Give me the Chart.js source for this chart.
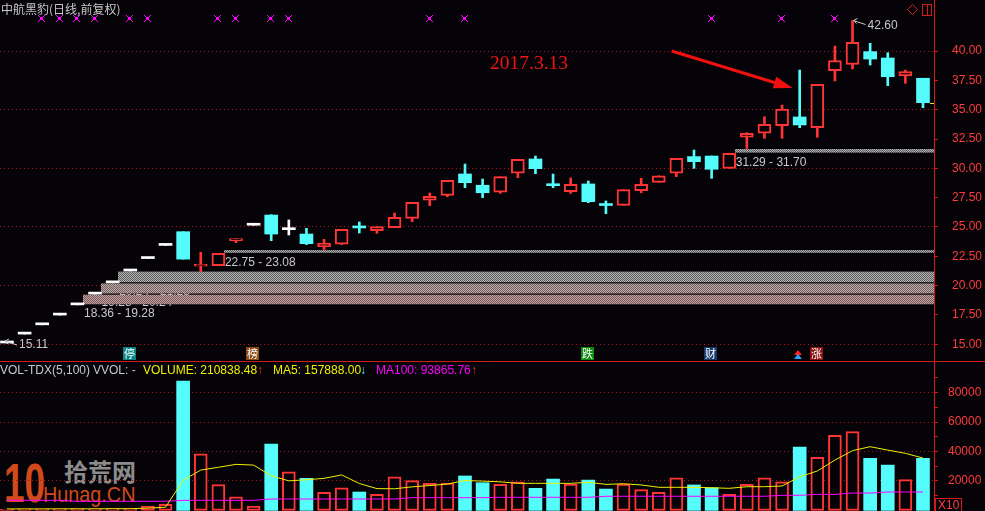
<!DOCTYPE html>
<html lang="zh-CN">
<head>
<meta charset="utf-8">
<title>中航黑豹 日线</title>
<script src="https://cdn.jsdelivr.net/npm/chart.js@4.4.1/dist/chart.umd.min.js"></script>
<style>
  html, body { margin: 0; padding: 0; background: #050308; }
  #board { position: relative; width: 985px; height: 511px; overflow: hidden; font-family: 'Liberation Sans', Arial, sans-serif; }
  #board canvas { position: absolute; left: 0; z-index: 1; }
  #priceChart { top: 0; }
  #volumeChart { top: 361px; }
  .txt { position: absolute; z-index: 2; white-space: nowrap; }
  #title { left: 1px; top: 2px; font: 12px/14px 'Noto Sans CJK SC', sans-serif; color: #c8c8c8; }
  #note { left: 490px; top: 53px; font: 19.5px/20px 'Liberation Serif', serif; color: #f01414; }
  .vh { top: 363px; font-size: 12px; line-height: 14px; }
  .wm { position: absolute; z-index: 0; white-space: nowrap; transform-origin: left top; }
  #wm10 { left: 4px; top: 455px; font: bold 56px/56px 'Liberation Sans', sans-serif; color: #d24a1c; transform: scaleX(0.66); }
  #wmCn { left: 64px; top: 459px; font: bold 24px/24px 'Noto Sans CJK SC', sans-serif; color: #8c8c8c; }
  #wmEn { left: 43px; top: 484px; font: 22px/22px 'Liberation Sans', sans-serif; color: #d24a1c; transform: scaleX(0.9); }
</style>
</head>
<body>
<div id="board">
  <div class="wm" id="wm10">10</div>
  <div class="wm" id="wmCn">拾荒网</div>
  <div class="wm" id="wmEn">Hunag.CN</div>
  <canvas id="priceChart" width="985" height="361"></canvas>
  <canvas id="volumeChart" width="985" height="150"></canvas>
  <div class="txt" id="title">中航黑豹(日线,前复权)</div>
  <div class="txt" id="note">2017.3.13</div>
  <div class="txt vh" style="left:0;color:#c8c8c8">VOL-TDX(5,100)</div>
  <div class="txt vh" style="left:93px;color:#c8c8c8">VVOL: -</div>
  <div class="txt vh" style="left:143px;color:#f0f000">VOLUME: 210838.48</div>
  <div class="txt vh" style="left:257px;color:#ff3232">↑</div>
  <div class="txt vh" style="left:273px;color:#f0f000">MA5: 157888.00</div>
  <div class="txt vh" style="left:360px;color:#54fcfc">↓</div>
  <div class="txt vh" style="left:376px;color:#ff00ff">MA100: 93865.76</div>
  <div class="txt vh" style="left:471px;color:#ff3232">↑</div>
</div>
<script>
// trading days, oldest first
const DAYS = [0, 1, 2, 3, 4, 5, 6, 7, 8, 9, 10, 11, 12, 13, 14, 15, 16, 17, 18, 19,
  20, 21, 22, 23, 24, 25, 26, 27, 28, 29, 30, 31, 32, 33, 34, 35, 36, 37, 38, 39,
  40, 41, 42, 43, 44, 45, 46, 47, 48, 49, 50, 51, 52];

const OPEN = [15.11, 15.87, 16.66, 17.49, 18.36, 19.28, 20.24, 21.25, 22.31, 23.43,
  24.60, 21.67, 21.70, 23.84, 25.15, 26.02, 24.77, 24.40, 23.32, 23.53,
  24.96, 24.68, 24.94, 25.74, 27.28, 27.70, 29.52, 28.56, 27.96, 29.58,
  30.80, 28.62, 28.01, 28.67, 26.87, 26.85, 28.10, 28.81, 29.58, 31.00,
  31.05, 30.00, 32.65, 32.99, 33.64, 34.38, 33.47, 38.32, 38.87, 39.95,
  39.41, 37.87, 37.68];
const HIGH = [15.11, 15.87, 16.66, 17.49, 18.36, 19.28, 20.24, 21.25, 22.31, 23.43,
  24.60, 22.84, 22.75, 23.98, 25.15, 26.05, 25.60, 24.89, 23.95, 24.80,
  25.43, 25.03, 26.19, 27.11, 27.90, 28.98, 30.37, 29.09, 29.29, 30.77,
  31.05, 29.52, 29.18, 28.92, 27.22, 28.18, 29.15, 29.37, 30.86, 31.56,
  31.05, 31.29, 33.04, 34.40, 35.40, 38.38, 37.17, 40.43, 42.60, 40.66,
  39.86, 38.38, 37.68];
const LOW = [15.11, 15.87, 16.66, 17.49, 18.36, 19.28, 20.24, 21.25, 22.31, 23.43,
  22.26, 21.19, 21.70, 23.66, 25.15, 23.83, 24.32, 23.50, 23.08, 23.50,
  24.49, 24.46, 24.94, 25.45, 26.82, 27.58, 28.35, 27.50, 27.87, 29.20,
  29.54, 28.35, 27.87, 27.07, 26.13, 26.85, 27.92, 28.81, 29.29, 30.00,
  29.15, 30.00, 31.70, 32.56, 32.56, 33.47, 32.65, 37.45, 38.47, 38.81,
  37.05, 37.25, 35.17];
const CLOSE = [15.11, 15.87, 16.66, 17.49, 18.36, 19.28, 20.24, 21.25, 22.31, 23.43,
  22.26, 21.73, 22.75, 23.98, 25.15, 24.40, 24.77, 23.58, 23.61, 24.80,
  24.92, 25.03, 25.83, 27.11, 27.62, 28.98, 28.78, 27.92, 29.29, 30.77,
  29.97, 28.52, 28.64, 27.16, 26.83, 28.18, 28.64, 29.37, 30.86, 30.57,
  29.92, 31.29, 32.99, 33.76, 35.06, 33.70, 37.17, 39.18, 40.75, 39.32,
  37.81, 38.24, 35.60];

// volume (axis shown in units of x10)
const VOLUME = [900, 1000, 1100, 1000, 1200, 1100, 1300, 1200, 3000, 4100,
  87900, 38500, 17500, 9300, 3000, 45100, 26300, 21800, 12300, 15400,
  12500, 10900, 22900, 20200, 18400, 18600, 23400, 18800, 17800, 19500,
  15000, 21300, 17900, 20600, 14500, 17900, 14100, 12300, 22200, 17300,
  15400, 10900, 17700, 22200, 19500, 43100, 36100, 51000, 53500, 35400,
  30800, 20900, 35400];
const MA5 = [1000, 1000, 1000, 1050, 1050, 1100, 1150, 1150, 1550, 2150,
  20500, 27400, 29300, 31300, 30800, 23500, 20100, 20800, 21800, 24100,
  18300, 14800, 14700, 16000, 16900, 17900, 20300, 19900, 19400, 18400,
  18400, 18400, 18400, 19100, 17700, 18100, 17300, 15700, 15700, 15700,
  15400, 15000, 16100, 16100, 16600, 22800, 26800, 34200, 40600, 43300,
  41000, 38800, 35600];
const MA100 = [6850, 6850, 6850, 6850, 6200, 6200, 6200, 6200, 6200, 6200,
  6850, 6850, 6850, 6850, 6850, 7750, 7750, 7750, 7750, 7750,
  7750, 7750, 7750, 8650, 8650, 8650, 8650, 8650, 8900, 8900,
  8900, 8900, 8900, 8900, 9600, 9600, 9600, 9600, 9600, 9600,
  9600, 9600, 9600, 9600, 10250, 10250, 10900, 10900, 11800, 11800,
  12500, 12500, 12500];

// unfilled price gaps: day they open after, lower and upper edge
const GAP_DAY = [4, 5, 6, 12, 41];
const GAP_LOW = [18.36, 19.28, 20.24, 22.75, 31.29];
const GAP_HIGH = [19.28, 20.24, 21.25, 23.08, 31.70];

// signal marks
const SIGNAL_DAYS = [2, 3, 4, 5, 7, 8, 12, 13, 15, 16, 24, 26, 40, 44, 47];
const TAG_DAYS = [7, 14, 33, 40, 46];
const TAG_TEXT = ['停', '榜', '跌', '财', '涨'];
const NOTE_DAY = 45;   // 2017.3.13

const PRICE_TICKS = [15, 17.5, 20, 22.5, 25, 27.5, 30, 32.5, 35, 37.5, 40];
const VOLUME_TICKS = [10000, 20000, 30000, 40000, 50000, 60000, 70000, 80000, 90000];

// ---- look ----
const BG = '#050308';
const UP_RED = '#ff3434';
const DOWN_CYAN = '#54fcfc';
const FLAT_WHITE = '#ffffff';
const AXIS_RED = '#d01c1c';
const TICK_RED = '#ff3c3c';
const GRID_RED = '#a81616';
const LABEL_GRAY = '#c8c8c8';
const TAG_BG = ['#0a8585', '#8a4a14', '#0c8a0c', '#16386a', '#8a1010'];
const GAP_STYLE = [['#c0a8a8', '#7a5454'], ['#b8a8a8', '#766060'], ['#b4b4b4', '#5c5c5c'],
  ['#b4b4b4', '#5c5c5c'], ['#b4b4b4', '#5c5c5c']];
const X_MIN = -0.397, X_MAX = 52.625;
const PRICE_MIN = 13.576, PRICE_MAX = 44.352;
const VOL_MIN = -408, VOL_MAX = 101546;
const AXIS_W = 51;
const FONT = '12px "Liberation Sans", Arial, sans-serif';

function candleColor(i) {
  if (CLOSE[i] > OPEN[i]) return UP_RED;
  if (CLOSE[i] < OPEN[i]) return DOWN_CYAN;
  return FLAT_WHITE;
}
function isUp(i) { return CLOSE[i] > OPEN[i]; }
function volumeColor(i) { return CLOSE[i] < OPEN[i] ? DOWN_CYAN : UP_RED; }

function fitAxis(scale) {
  scale.width = AXIS_W;
  scale.paddingTop = 0;
  scale.paddingBottom = 0;
}

function checker(ctx, c1, c2) {
  const cv = document.createElement('canvas');
  cv.width = 2; cv.height = 2;
  const g = cv.getContext('2d');
  g.fillStyle = c1; g.fillRect(0, 0, 2, 2);
  g.fillStyle = c2; g.fillRect(0, 0, 1, 1); g.fillRect(1, 1, 1, 1);
  return ctx.createPattern(cv, 'repeat');
}

function priceTag(ctx, px, py, text, below) {
  // small arrow pointing at the extreme, value to its right
  const tipX = below ? px - 2 : px + 1;
  const tipY = below ? py - 2 : py;
  ctx.strokeStyle = LABEL_GRAY; ctx.lineWidth = 1;
  ctx.beginPath();
  ctx.moveTo(tipX, tipY); ctx.lineTo(tipX + 12, tipY + 4);
  ctx.moveTo(tipX, tipY); ctx.lineTo(tipX + 4, tipY - 2);
  ctx.moveTo(tipX, tipY); ctx.lineTo(tipX + 3, tipY + 3);
  ctx.stroke();
  ctx.fillStyle = LABEL_GRAY;
  ctx.fillText(text, tipX + 14, below ? py + 2 : py + 5);
}

const priceMarks = {
  id: 'priceMarks',
  beforeDatasetsDraw(chart) {
    const { ctx, chartArea, scales: { x, y } } = chart;
    ctx.save();
    ctx.font = FONT; ctx.textBaseline = 'middle'; ctx.fillStyle = LABEL_GRAY;
    GAP_DAY.forEach((d, k) => {
      const x0 = x.getPixelForValue(d) + 5.5;
      ctx.fillText(GAP_LOW[k].toFixed(2) + ' - ' + GAP_HIGH[k].toFixed(2), x0 + 1,
        y.getPixelForValue(GAP_LOW[k]) + 9);
    });
    GAP_DAY.forEach((d, k) => {
      const x0 = x.getPixelForValue(d) + 5.5;
      const top = y.getPixelForValue(GAP_HIGH[k]) + 0.6;
      const bot = y.getPixelForValue(GAP_LOW[k]) - 0.6;
      ctx.fillStyle = checker(ctx, GAP_STYLE[k][0], GAP_STYLE[k][1]);
      ctx.fillRect(Math.round(x0), top, chartArea.right - Math.round(x0), bot - top);
    });
    ctx.restore();
  },
  afterDatasetsDraw(chart) {
    const { ctx, chartArea, scales: { x, y } } = chart;
    ctx.save();
    ctx.font = FONT; ctx.textBaseline = 'middle';

    // highest / lowest price tags
    const hi = HIGH.indexOf(Math.max(...HIGH));
    const lo = LOW.indexOf(Math.min(...LOW));
    priceTag(ctx, x.getPixelForValue(hi), y.getPixelForValue(HIGH[hi]), HIGH[hi].toFixed(2), false);
    priceTag(ctx, x.getPixelForValue(lo), y.getPixelForValue(LOW[lo]), LOW[lo].toFixed(2), true);

    // last close mark on the axis
    const last = CLOSE.length - 1;
    ctx.fillStyle = '#e8e800';
    ctx.fillRect(chartArea.right - 4, Math.round(y.getPixelForValue(CLOSE[last])), 4, 1);

    // arrow to the 2017.3.13 candle
    const nx = x.getPixelForValue(NOTE_DAY);
    const ny = y.getPixelForValue(HIGH[NOTE_DAY]);
    const tipX = nx - 7, tipY = ny + 18, tailX = nx - 128, tailY = ny - 19;
    const len = Math.hypot(tipX - tailX, tipY - tailY);
    const ux = (tipX - tailX) / len, uy = (tipY - tailY) / len;
    ctx.strokeStyle = '#f01010'; ctx.fillStyle = '#f01010'; ctx.lineWidth = 3;
    ctx.beginPath(); ctx.moveTo(tailX, tailY); ctx.lineTo(tipX - ux * 14, tipY - uy * 14); ctx.stroke();
    ctx.beginPath();
    ctx.moveTo(tipX, tipY);
    ctx.lineTo(tipX - ux * 19 - uy * 6, tipY - uy * 19 + ux * 6);
    ctx.lineTo(tipX - ux * 19 + uy * 6, tipY - uy * 19 - ux * 6);
    ctx.closePath(); ctx.fill();

    // signal crosses along the top
    ctx.fillStyle = '#ff00ff';
    SIGNAL_DAYS.forEach(d => {
      const px = Math.round(x.getPixelForValue(d)) - 1;
      ctx.fillRect(px - 1, 17, 3, 3);
      ctx.fillRect(px - 3, 15, 1, 1); ctx.fillRect(px + 3, 15, 1, 1);
      ctx.fillRect(px - 3, 21, 1, 1); ctx.fillRect(px + 3, 21, 1, 1);
      ctx.fillRect(px - 2, 16, 1, 1); ctx.fillRect(px + 2, 16, 1, 1);
      ctx.fillRect(px - 2, 20, 1, 1); ctx.fillRect(px + 2, 20, 1, 1);
    });

    // event tags along the bottom
    ctx.textAlign = 'center';
    ctx.font = '11px "Noto Sans CJK SC", sans-serif';
    TAG_DAYS.forEach((d, k) => {
      const cx = Math.round(x.getPixelForValue(d) - 1.5);
      ctx.fillStyle = TAG_BG[k];
      ctx.fillRect(cx - 6, 347, 13, 13);
      ctx.fillStyle = '#ffffff';
      ctx.fillText(TAG_TEXT[k], cx + 0.5, 353.5);
    });
    const px = Math.round(x.getPixelForValue(NOTE_DAY)) - 2;
    ctx.fillStyle = '#ff2020';
    ctx.beginPath(); ctx.moveTo(px, 350); ctx.lineTo(px - 4, 355); ctx.lineTo(px + 4, 355); ctx.closePath(); ctx.fill();
    ctx.fillStyle = '#30a0ff';
    ctx.beginPath(); ctx.moveTo(px, 354); ctx.lineTo(px - 4, 359); ctx.lineTo(px + 4, 359); ctx.closePath(); ctx.fill();

    // window icons, top right
    ctx.strokeStyle = AXIS_RED; ctx.lineWidth = 1;
    ctx.beginPath();
    ctx.moveTo(912.5, 4.5); ctx.lineTo(917.5, 9.5); ctx.lineTo(912.5, 14.5); ctx.lineTo(907.5, 9.5); ctx.closePath();
    ctx.stroke();
    ctx.strokeRect(922.5, 4.5, 9, 11);
    ctx.beginPath(); ctx.moveTo(927.5, 4.5); ctx.lineTo(927.5, 15.5); ctx.stroke();
    ctx.restore();
  }
};

const volumeMarks = {
  id: 'volumeMarks',
  afterDraw(chart) {
    const { ctx } = chart;
    ctx.save();
    ctx.strokeStyle = AXIS_RED; ctx.lineWidth = 1;
    ctx.beginPath(); ctx.moveTo(0, 0.5); ctx.lineTo(chart.width, 0.5); ctx.stroke();
    ctx.strokeRect(935.5, 137.5, 26, 13);
    ctx.fillStyle = TICK_RED; ctx.font = FONT; ctx.textBaseline = 'middle';
    ctx.fillText('X10', 938, 144.5);
    ctx.restore();
  }
};

new Chart(document.getElementById('priceChart'), {
  type: 'bar',
  data: {
    datasets: [{
      label: 'body',
      order: 0,
      grouped: false,
      barThickness: 13,
      minBarLength: 2,
      borderSkipped: false,
      data: DAYS.map((d, i) => ({ x: d, y: [OPEN[i], CLOSE[i]] })),
      backgroundColor: c => isUp(c.dataIndex) ? BG : candleColor(c.dataIndex),
      borderColor: c => candleColor(c.dataIndex),
      borderWidth: c => isUp(c.dataIndex) ? 2 : 0,
    }, {
      label: 'wick',
      order: 1,
      grouped: false,
      barThickness: 2,
      borderSkipped: false,
      borderWidth: 0,
      data: DAYS.map((d, i) => ({ x: d, y: [LOW[i], HIGH[i]] })),
      backgroundColor: c => candleColor(c.dataIndex),
    }]
  },
  options: {
    responsive: false,
    animation: false,
    layout: { padding: 0 },
    plugins: { legend: { display: false }, tooltip: { enabled: false } },
    scales: {
      x: { type: 'linear', min: X_MIN, max: X_MAX, offset: false, display: false },
      y: {
        position: 'right',
        min: PRICE_MIN,
        max: PRICE_MAX,
        afterFit: fitAxis,
        afterBuildTicks: s => { s.ticks = PRICE_TICKS.map(v => ({ value: v })); },
        ticks: {
          color: TICK_RED,
          font: { family: '"Liberation Sans", Arial, sans-serif', size: 12 },
          padding: 14,
          autoSkip: false,
          callback: v => v.toFixed(2),
        },
        grid: {
          color: c => c.tick && c.tick.value % 5 === 0 ? GRID_RED : 'rgba(0,0,0,0)',
          tickColor: AXIS_RED,
          tickLength: 4,
          lineWidth: 1,
        },
        border: { color: AXIS_RED, width: 1, dash: [1, 3] },
      }
    }
  },
  plugins: [priceMarks]
});

new Chart(document.getElementById('volumeChart'), {
  type: 'bar',
  data: {
    datasets: [{
      type: 'line',
      label: 'MA5',
      order: 0,
      data: DAYS.map((d, i) => ({ x: d, y: MA5[i] })),
      borderColor: '#f0f000',
      borderWidth: 1,
      pointRadius: 0,
      tension: 0,
    }, {
      type: 'line',
      label: 'MA100',
      order: 1,
      data: DAYS.map((d, i) => ({ x: d, y: MA100[i] })),
      borderColor: '#ff00ff',
      borderWidth: 1,
      pointRadius: 0,
      tension: 0,
    }, {
      type: 'bar',
      label: 'VOLUME',
      order: 2,
      grouped: false,
      barThickness: 13,
      borderSkipped: false,
      data: DAYS.map((d, i) => ({ x: d, y: VOLUME[i] })),
      backgroundColor: c => volumeColor(c.dataIndex) === DOWN_CYAN ? DOWN_CYAN : BG,
      borderColor: c => volumeColor(c.dataIndex),
      borderWidth: c => volumeColor(c.dataIndex) === DOWN_CYAN ? 0 : 2,
    }]
  },
  options: {
    responsive: false,
    animation: false,
    layout: { padding: 0 },
    plugins: { legend: { display: false }, tooltip: { enabled: false } },
    scales: {
      x: { type: 'linear', min: X_MIN, max: X_MAX, offset: false, display: false },
      y: {
        position: 'right',
        min: VOL_MIN,
        max: VOL_MAX,
        afterFit: fitAxis,
        afterBuildTicks: s => { s.ticks = VOLUME_TICKS.map(v => ({ value: v })); },
        ticks: {
          color: TICK_RED,
          font: { family: '"Liberation Sans", Arial, sans-serif', size: 12 },
          padding: 10,
          autoSkip: false,
          callback: v => v % 20000 === 0 ? String(v) : '',
        },
        grid: {
          color: c => c.tick && c.tick.value % 20000 === 0 ? GRID_RED : 'rgba(0,0,0,0)',
          tickColor: AXIS_RED,
          tickLength: 4,
          lineWidth: 1,
        },
        border: { color: AXIS_RED, width: 1, dash: [1, 3] },
      }
    }
  },
  plugins: [volumeMarks]
});
</script>
</body>
</html>
